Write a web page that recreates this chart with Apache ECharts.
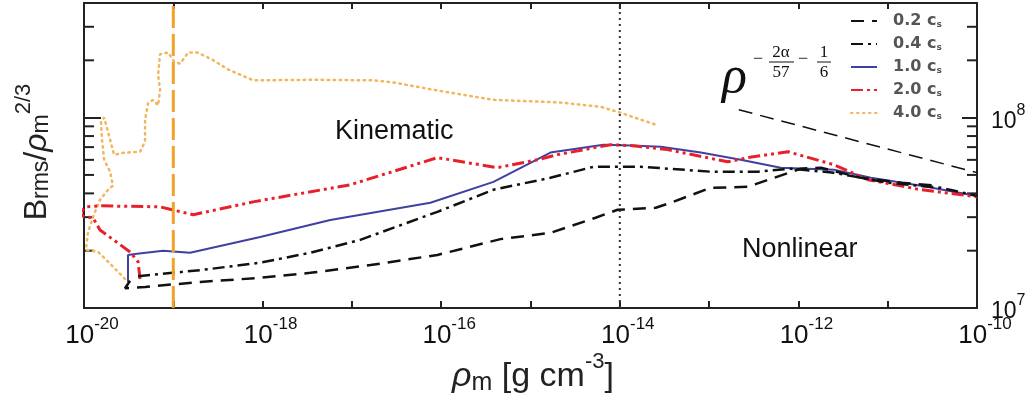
<!DOCTYPE html>
<html>
<head>
<meta charset="UTF-8">
<title>B_rms / rho_m^(2/3)</title>
<script src="https://cdn.jsdelivr.net/npm/echarts@6/dist/echarts.min.js"></script>
<style>
    html, body { margin: 0; padding: 0; background: #fff; }
    #main { width: 1032px; height: 402px; }
</style>
</head>
<body>
<div id="main"></div>
<script>
// values: rho_m [g cm^-3] and B_rms / rho_m^(2/3)
var rho02 = [3.28e-20, 2.88e-20, 4.83e-20, 2.0e-19, 9.4e-19, 3.42e-18, 1.61e-17, 9.06e-17, 4.61e-16, 1.67e-15, 5.36e-15, 9.45e-15, 2.52e-14, 3.71e-14, 1.04e-13, 2.71e-13, 1.06e-12, 1.78e-12, 5.01e-12, 1.41e-11, 3.66e-11];
var b02   = [1.39e7, 1.27e7, 1.29e7, 1.37e7, 1.44e7, 1.53e7, 1.68e7, 1.90e7, 2.3e7, 2.48e7, 2.98e7, 3.28e7, 3.36e7, 3.57e7, 4.28e7, 4.33e7, 5.39e7, 5.46e7, 4.83e7, 4.55e7, 4.39e7];

var rho04 = [4.03e-20, 2.0e-19, 9.4e-19, 3.42e-18, 1.24e-17, 9.06e-17, 3.85e-16, 1.67e-15, 5.09e-15, 1.71e-14, 1.04e-13, 3.51e-13, 8.22e-13, 2.49e-12, 1.0e-11, 3.95e-11, 1.0e-10];
var b04   = [1.47e7, 1.58e7, 1.73e7, 1.95e7, 2.28e7, 3.20e7, 4.18e7, 4.83e7, 5.52e7, 5.52e7, 5.20e7, 5.20e7, 5.39e7, 5.14e7, 4.55e7, 4.28e7, 3.88e7];

var rho10 = [3.11e-20, 3.11e-20, 3.73e-20, 7.69e-20, 1.54e-19, 9.4e-19, 5.73e-18, 7.57e-17, 3.85e-16, 1.67e-15, 6.58e-15, 1.32e-14, 2.87e-14, 8.06e-14, 2.26e-13, 6.35e-13, 2.49e-12, 6.49e-12, 2.36e-11, 1.0e-10];
var b10   = [1.37e7, 1.90e7, 1.92e7, 2.0e7, 1.95e7, 2.36e7, 2.90e7, 3.57e7, 4.60e7, 6.55e7, 7.21e7, 7.13e7, 7.04e7, 6.55e7, 6.01e7, 5.46e7, 5.33e7, 4.83e7, 4.39e7, 3.88e7];

var rho20 = [4.24e-20, 4.03e-20, 3.28e-20, 1.51e-20, 1.26e-20, 1.0e-20, 9.0e-21, 1.05e-20, 1.51e-20, 7.11e-20, 9.7e-20, 1.67e-19, 7.85e-19, 9.6e-18, 9.06e-17, 4.27e-16, 1.20e-15, 2.01e-15, 7.89e-15, 1.32e-14, 3.43e-14, 1.62e-13, 2.71e-13, 7.61e-13, 2.49e-12, 6.0e-12, 2.36e-11, 1.0e-10];
var b20   = [1.42e7, 1.75e7, 1.97e7, 2.57e7, 2.98e7, 3.01e7, 3.16e7, 3.40e7, 3.44e7, 3.40e7, 3.28e7, 3.09e7, 3.61e7, 4.44e7, 6.16e7, 5.46e7, 6.01e7, 6.39e7, 7.21e7, 7.13e7, 6.79e7, 5.86e7, 6.16e7, 6.62e7, 5.66e7, 4.72e7, 4.18e7, 3.84e7];

var rho40 = [2.88e-20, 1.96e-20, 1.44e-20, 1.05e-20, 1.11e-20, 1.29e-20, 1.51e-20, 1.86e-20, 2.11e-20, 1.96e-20, 1.68e-20, 1.59e-20, 1.55e-20, 1.68e-20, 1.96e-20, 2.17e-20, 2.88e-20, 4.24e-20, 4.83e-20, 4.83e-20, 5.22e-20, 5.94e-20, 6.76e-20, 7.11e-20, 6.76e-20, 7.11e-20, 8.75e-20, 1.02e-19, 1.19e-19, 1.47e-19, 1.85e-19, 2.72e-19, 4.11e-19, 7.85e-19, 3.69e-18, 1.74e-17, 2.91e-17, 1.06e-16, 3.85e-16, 2.17e-15, 6.1e-15, 1.02e-14, 2.52e-14];
var b40   = [1.42e7, 1.71e7, 1.97e7, 2.02e7, 2.51e7, 3.09e7, 3.70e7, 4.18e7, 4.39e7, 5.20e7, 6.01e7, 7.66e7, 9.52e7, 1.0e8, 7.66e7, 6.39e7, 6.55e7, 6.62e7, 7.48e7, 9.75e7, 1.19e8, 1.24e8, 1.16e8, 1.40e8, 1.68e8, 2.15e8, 2.20e8, 1.97e8, 1.92e8, 2.20e8, 2.20e8, 2.02e8, 1.79e8, 1.57e8, 1.58e8, 1.57e8, 1.53e8, 1.37e8, 1.24e8, 1.20e8, 1.14e8, 1.06e8, 9.18e7];

// power-law guide  rho^(-2a/57 - 1/6)
var slopeRho = [2.15e-13, 1.0e-10];
var slopeB   = [1.10e8, 5.14e7];

// vertical markers
var rhoOrangeLine = 1e-19;
var rhoDottedLine = 1e-14;

var X_MIN = 1e-20, X_MAX = 1e-10;
var Y_MIN = 1e7, Y_MAX = 4e8;
var yMinorTicks = [2e7, 3e7, 4e7, 5e7, 6e7, 7e7, 8e7, 9e7, 2e8, 3e8];

function pairs(xs, ys) {
    return xs.map(function (x, i) { return [x, ys[i]]; });
}
function powLabel(v) {
    var e = Math.log(v) / Math.LN10;
    if (Math.abs(e - Math.round(e)) > 1e-6) return '';
    return Math.round(e);
}

var FONT = '"Liberation Sans", Arial, sans-serif';
var SERIF = '"Liberation Serif", "DejaVu Serif", serif';
var LEGFONT = '"DejaVu Sans", sans-serif';

var myChart = echarts.init(document.getElementById('main'));

var option = {
    animation: false,
    backgroundColor: '#fff',
    grid: { left: 84, right: 55, top: 3, bottom: 94, show: false },
    legend: {
        data: ['0.2', '0.4', '1.0', '2.0', '4.0'],
        orient: 'vertical',
        left: 850,
        top: 13,
        itemWidth: 26,
        itemHeight: 12,
        itemGap: 7,
        backgroundColor: 'rgba(255,255,255,0.9)',
        padding: [0, 4, 0, 0],
        itemStyle: { color: 'rgba(0,0,0,0)', borderWidth: 0 },
        formatter: function (name) { return '{t|' + name + ' c}{s|s}'; },
        textStyle: {
            rich: {
                t: { fontFamily: LEGFONT, fontSize: 16, fontWeight: 'bold', color: '#555', padding: [0, 0, 0, 11] },
                s: { fontFamily: LEGFONT, fontSize: 9, fontWeight: 'bold', color: '#555', padding: [7, 0, 0, 0] }
            }
        }
    },
    xAxis: [{
        type: 'log', logBase: 10, min: X_MIN, max: X_MAX, interval: 1,
        position: 'bottom',
        axisLine: { show: true, lineStyle: { color: '#222', width: 2 } },
        axisTick: { show: true, inside: true, length: 7, lineStyle: { color: '#222', width: 2 } },
        splitLine: { show: false },
        axisLabel: {
            margin: 8,
            padding: [0, 0, 0, 16],
            formatter: function (v) {
                var e = powLabel(v);
                if (e === '' || e % 2 !== 0) return '';
                return '{b|10}{s|' + e + '}';
            },
            rich: {
                b: { fontFamily: FONT, fontSize: 26, color: '#111', padding: [7, 0, 0, 0] },
                s: { fontFamily: FONT, fontSize: 17, color: '#111', verticalAlign: 'top' }
            }
        }
    }, {
        type: 'log', logBase: 10, min: X_MIN, max: X_MAX, interval: 1,
        position: 'top',
        axisLine: { show: true, lineStyle: { color: '#222', width: 2 } },
        axisTick: { show: true, inside: true, length: 6, lineStyle: { color: '#222', width: 2 } },
        axisLabel: { show: false },
        splitLine: { show: false }
    }],
    yAxis: [{
        type: 'log', logBase: 10, min: Y_MIN, max: Y_MAX, interval: 1,
        position: 'left',
        axisLine: { show: true, lineStyle: { color: '#222', width: 2 } },
        axisTick: { show: true, inside: true, length: 17, lineStyle: { color: '#222', width: 2 } },
        axisLabel: { show: false },
        splitLine: { show: false }
    }, {
        type: 'log', logBase: 10, min: Y_MIN, max: Y_MAX, interval: 1,
        position: 'right',
        axisLine: { show: true, lineStyle: { color: '#222', width: 2 } },
        axisTick: { show: true, inside: true, length: 15, lineStyle: { color: '#222', width: 2 } },
        splitLine: { show: false },
        axisLabel: {
            margin: 14,
            formatter: function (v) {
                var e = powLabel(v);
                if (e === '') return '';
                return '{b|10}{s|' + e + '}';
            },
            rich: {
                b: { fontFamily: FONT, fontSize: 23, color: '#111', padding: [8, 0, 0, 0] },
                s: { fontFamily: FONT, fontSize: 16, color: '#111', verticalAlign: 'top' }
            }
        }
    }],
    series: [
        {
            name: '4.0', type: 'line', data: pairs(rho40, b40), showSymbol: false, symbol: 'none',
            lineStyle: { color: '#f2b65c', width: 2.5, type: [1.5, 4.5], cap: 'round' }, itemStyle: { color: '#f2b65c' }
        },
        {
            name: '1.0', type: 'line', data: pairs(rho10, b10), showSymbol: false, symbol: 'none',
            lineStyle: { color: '#4040a0', width: 2 }, itemStyle: { color: '#4040a0' }
        },
        {
            name: '2.0', type: 'line', data: pairs(rho20, b20), showSymbol: false, symbol: 'none',
            lineStyle: { color: '#e8202a', width: 3, type: [12, 4, 3, 4, 3, 4] }, itemStyle: { color: '#e8202a' }
        },
        {
            name: '0.4', type: 'line', data: pairs(rho04, b04), showSymbol: false, symbol: 'none',
            lineStyle: { color: '#111', width: 2.5, type: [12, 5, 3, 5] }, itemStyle: { color: '#111' }
        },
        {
            name: '0.2', type: 'line', data: pairs(rho02, b02), showSymbol: false, symbol: 'none',
            lineStyle: { color: '#111', width: 2.5, type: [13, 8] }, itemStyle: { color: '#111' }
        },
        {
            name: 'slope', type: 'line', data: pairs(slopeRho, slopeB), showSymbol: false, symbol: 'none',
            lineStyle: { color: '#111', width: 1.5, type: [14, 8] }, silent: true
        },
        {
            name: 'orangeMarker', type: 'line', data: [[rhoOrangeLine, Y_MIN], [rhoOrangeLine, Y_MAX]],
            showSymbol: false, symbol: 'none', silent: true,
            lineStyle: { color: '#f0a22a', width: 3, type: [22, 6] }
        },
        {
            name: 'dottedMarker', type: 'line', data: [[rhoDottedLine, Y_MIN], [rhoDottedLine, Y_MAX]],
            showSymbol: false, symbol: 'none', silent: true,
            lineStyle: { color: '#333', width: 2, type: [2, 4] }
        },
        {
            // minor log ticks on left and right frame
            name: 'yMinor', type: 'custom', silent: true, clip: false,
            data: yMinorTicks.map(function (v) { return [X_MIN, v]; }),
            renderItem: function (params, api) {
                var v = api.value(1);
                var l = api.coord([X_MIN, v]);
                var r = api.coord([X_MAX, v]);
                var st = { stroke: '#222', lineWidth: 2 };
                return {
                    type: 'group',
                    children: [
                        { type: 'line', shape: { x1: l[0], y1: l[1], x2: l[0] + 10, y2: l[1] }, style: st },
                        { type: 'line', shape: { x1: r[0] - 10, y1: r[1], x2: r[0], y2: r[1] }, style: st }
                    ]
                };
            }
        }
    ],
    graphic: [
        {
            type: 'text', left: 335, top: 118,
            style: { text: 'Kinematic', font: '27px ' + FONT, fill: '#111' }
        },
        {
            type: 'text', left: 742, top: 236,
            style: { text: 'Nonlinear', font: '27px ' + FONT, fill: '#111' }
        },
        // y-axis title, reading bottom to top
        {
            type: 'text', x: 33, y: 152, rotation: Math.PI / 2,
            style: {
                text: '{b|B}{sub|rms}{b|/}{r|ρ}{sub|m}{sup|2/3}',
                align: 'center', verticalAlign: 'middle',
                rich: {
                    b: { fontFamily: FONT, fontSize: 32, fill: '#222', padding: [8, 0, 0, 0] },
                    r: { fontFamily: FONT, fontStyle: 'italic', fontSize: 32, fill: '#222', padding: [8, 0, 0, 0] },
                    sub: { fontFamily: FONT, fontSize: 23, fill: '#222', verticalAlign: 'bottom', padding: [18, 0, 0, 0] },
                    sup: { fontFamily: FONT, fontSize: 22, fill: '#222', verticalAlign: 'top' }
                }
            }
        },
        // x-axis title
        {
            type: 'text', x: 533, y: 373,
            style: {
                text: '{r|ρ}{sub|m}{b| [g cm}{sup|-3}{b|]}',
                align: 'center', verticalAlign: 'middle',
                rich: {
                    b: { fontFamily: FONT, fontSize: 34, fill: '#222', padding: [8, 0, 0, 0] },
                    r: { fontFamily: FONT, fontStyle: 'italic', fontSize: 34, fill: '#222', padding: [8, 0, 0, 0] },
                    sub: { fontFamily: FONT, fontSize: 25, fill: '#222', verticalAlign: 'bottom', padding: [20, 0, 0, 0] },
                    sup: { fontFamily: FONT, fontSize: 22, fill: '#222', verticalAlign: 'top' }
                }
            }
        },
        // power-law label  rho^(-2a/57 - 1/6)
        {
            type: 'group', left: 722, top: 44,
            children: [
                { type: 'text', x: 2, y: 10, style: { text: 'ρ', font: 'italic 52px ' + SERIF, fill: '#111' } },
                { type: 'text', x: 33, y: 8, style: { text: '−', font: '18px ' + SERIF, fill: '#111' } },
                { type: 'text', x: 61, y: 2, style: { text: '2α', font: '17px ' + SERIF, fill: '#111', align: 'center' } },
                { type: 'line', shape: { x1: 49, y1: 20, x2: 74, y2: 20 }, style: { stroke: '#111', lineWidth: 1 } },
                { type: 'text', x: 61, y: 22, style: { text: '57', font: '17px ' + SERIF, fill: '#111', align: 'center' } },
                { type: 'text', x: 78, y: 8, style: { text: '−', font: '18px ' + SERIF, fill: '#111' } },
                { type: 'text', x: 104, y: 2, style: { text: '1', font: '17px ' + SERIF, fill: '#111', align: 'center' } },
                { type: 'line', shape: { x1: 97, y1: 20, x2: 111, y2: 20 }, style: { stroke: '#111', lineWidth: 1 } },
                { type: 'text', x: 104, y: 22, style: { text: '6', font: '17px ' + SERIF, fill: '#111', align: 'center' } }
            ]
        }
    ]
};

myChart.setOption(option);
</script>
</body>
</html>
